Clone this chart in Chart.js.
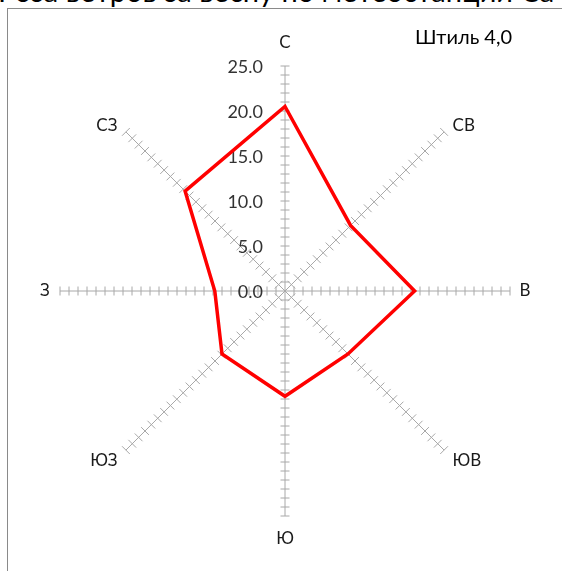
<!DOCTYPE html>
<html>
<head>
<meta charset="utf-8">
<script src="https://cdn.jsdelivr.net/npm/chart.js@4/dist/chart.umd.min.js"></script>
<style>
  html, body { margin: 0; padding: 0; background: #fff; overflow: hidden; }
  #wrap { position: relative; width: 562px; height: 571px; overflow: hidden; }
  #title { position: absolute; left: -2px; top: -27px; white-space: nowrap; font: 29px Lato, sans-serif; line-height: 35px; color: #000; }
  #frame { position: absolute; left: 7px; top: 8px; width: 700px; height: 700px; border: 1px solid #8a8a8a; box-sizing: border-box; }
  canvas { position: absolute; left: 0; top: 0; }
</style>
</head>
<body>
<div id="wrap">
  <div id="title">Роза ветров за весну по метеостанции Са</div>
  <div id="frame"></div>
  <canvas id="c" width="562" height="571"></canvas>
</div>
<script>
const directions = ['С', 'СВ', 'В', 'ЮВ', 'Ю', 'ЮЗ', 'З', 'СЗ'];
const frequency = [20.5, 10.3, 14.4, 9.9, 11.7, 9.9, 7.8, 15.7];
const tickValues = [0, 5, 10, 15, 20, 25];
const minorStep = 1;
const calmLabel = 'Штиль';
const calmValue = 4.0;

const axisColor = '#a8a8a8';
const textColor = '#1a1a1a';

const spokePlugin = {
  id: 'spokes',
  beforeDatasetsDraw(chart) {
    const s = chart.scales.r;
    const ctx = chart.ctx;
    ctx.save();
    ctx.strokeStyle = axisColor;
    ctx.lineWidth = 1;
    const maxV = tickValues[tickValues.length - 1];
    for (let i = 0; i < directions.length; i++) {
      const a = s.getIndexAngle(i) - Math.PI / 2;
      const px = -Math.sin(a), py = Math.cos(a);
      const diag = Math.abs(Math.cos(a)) > 0.1 && Math.abs(Math.sin(a)) > 0.1;
      const h = diag ? 5.5 : 4.5;
      for (let v = minorStep; v <= maxV + 1e-9; v += minorStep) {
        const p = s.getPointPosition(i, s.getDistanceFromCenterForValue(v));
        ctx.beginPath();
        ctx.moveTo(p.x - px * h, p.y - py * h);
        ctx.lineTo(p.x + px * h, p.y + py * h);
        ctx.stroke();
      }
    }
    ctx.fillStyle = '#333333';
    ctx.font = '18px Lato, sans-serif';
    ctx.textAlign = 'right';
    ctx.textBaseline = 'middle';
    tickValues.forEach(v => {
      const y = s.yCenter - s.getDistanceFromCenterForValue(v);
      ctx.fillText(v.toFixed(1), s.xCenter - 22, y + 1);
    });
    ctx.fillStyle = textColor;
    ctx.font = '17px Lato, sans-serif';
    for (let i = 0; i < directions.length; i++) {
      const a = s.getIndexAngle(i) - Math.PI / 2;
      const c = Math.cos(a), sn = Math.sin(a);
      let pad, align;
      if (Math.abs(c) < 0.1) { pad = 23; align = 'center'; }
      else if (Math.abs(sn) < 0.1) { pad = 15; align = 'center'; }
      else { pad = 12; align = c > 0 ? 'left' : 'right'; }
      const p = s.getPointPosition(i, s.drawingArea + pad);
      ctx.textAlign = align;
      ctx.textBaseline = 'middle';
      ctx.fillText(directions[i], p.x, p.y + (Math.abs(c) < 0.1 || Math.abs(sn) < 0.1 ? 0 : 2));
    }
    ctx.font = '20px Lato, sans-serif';
    ctx.textAlign = 'left';
    ctx.fillStyle = '#000';
    ctx.fillText(calmLabel + ' ' + calmValue.toFixed(1).replace('.', ','), 415, 38);
    ctx.restore();
  }
};

new Chart(document.getElementById('c'), {
  type: 'radar',
  data: {
    labels: directions,
    datasets: [{
      data: frequency,
      borderColor: '#ff0000',
      borderWidth: 3.5,
      fill: false,
      pointRadius: 0,
      pointHoverRadius: 0,
      tension: 0
    }]
  },
  options: {
    responsive: false,
    animation: false,
    layout: { padding: { left: 60, right: 52, top: 66, bottom: 55 } },
    plugins: { legend: { display: false }, tooltip: { enabled: false } },
    scales: {
      r: {
        min: 0,
        max: 25,
        ticks: { display: false, stepSize: 5 },
        grid: { display: false },
        angleLines: { display: true, color: axisColor, lineWidth: 1 },
        pointLabels: { display: false }
      }
    }
  },
  plugins: [spokePlugin]
});
</script>
</body>
</html>
